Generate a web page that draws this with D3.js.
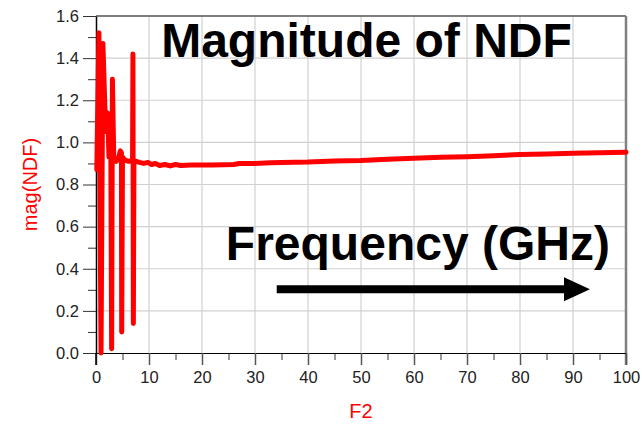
<!DOCTYPE html>
<html>
<head>
<meta charset="utf-8">
<script src="https://cdn.jsdelivr.net/npm/d3@7"></script>
<style>
  body { margin: 0; background: #fff; }
  svg { display: block; font-family: "Liberation Sans", Arial, sans-serif; }
</style>
</head>
<body>
<svg id="chart" width="642" height="424"></svg>
<script>
// frequency (GHz) and mag(NDF)
const freq = [0.15, 0.55, 0.95, 1.3, 1.7, 2.0, 2.2, 2.45, 2.8, 2.95, 3.1, 3.35, 3.8, 4.3, 4.6, 4.8, 4.85, 5.0, 5.5, 6.2, 6.9, 6.97, 7.05, 7.15, 7.6, 8.2, 9, 9.8, 10.5, 11.2, 12, 13, 14, 15, 16, 18, 20, 22, 24, 26, 27, 30, 33, 35, 40, 45, 50, 55, 60, 65, 70, 75, 80, 85, 90, 95, 100];
const mag = [0.87, 1.52, 0.0, 1.47, 1.15, 1.05, 1.14, 0.93, 0.93, 0.02, 1.30, 0.92, 0.91, 0.93, 0.96, 0.95, 0.10, 0.93, 0.915, 0.91, 0.915, 1.42, 0.14, 0.91, 0.91, 0.905, 0.9, 0.905, 0.895, 0.9, 0.89, 0.895, 0.888, 0.895, 0.89, 0.892, 0.892, 0.893, 0.894, 0.895, 0.9, 0.9, 0.903, 0.905, 0.907, 0.912, 0.914, 0.92, 0.925, 0.929, 0.932, 0.937, 0.942, 0.945, 0.948, 0.951, 0.953];

const xTicks = [0, 10, 20, 30, 40, 50, 60, 70, 80, 90, 100];
const xMinor = [5, 15, 25, 35, 45, 55, 65, 75, 85, 95];
const yTicks = [0, 0.2, 0.4, 0.6, 0.8, 1.0, 1.2, 1.4, 1.6];
const yMinor = [0.1, 0.3, 0.5, 0.7, 0.9, 1.1, 1.3, 1.5];

const width = 642, height = 424;
const margin = { top: 16, right: 16, bottom: 71, left: 96 };

const svg = d3.select('#chart');

const x = d3.scaleLinear().domain([0, 100]).range([margin.left, width - margin.right]);
const y = d3.scaleLinear().domain([0, 1.6]).range([height - margin.bottom, margin.top]);

// grid
svg.append('g')
  .selectAll('line')
  .data(xTicks.slice(1, -1))
  .join('line')
  .attr('x1', d => x(d)).attr('x2', d => x(d))
  .attr('y1', y(0)).attr('y2', y(1.6))
  .attr('stroke', '#d0d0d0').attr('stroke-width', 1.2);

svg.append('g')
  .selectAll('line')
  .data(yTicks.slice(1, -1))
  .join('line')
  .attr('x1', x(0)).attr('x2', x(100))
  .attr('y1', d => y(d)).attr('y2', d => y(d))
  .attr('stroke', '#d0d0d0').attr('stroke-width', 1.2);

// frame top and right
svg.append('line')
  .attr('x1', x(0)).attr('x2', x(100))
  .attr('y1', y(1.6)).attr('y2', y(1.6))
  .attr('stroke', '#555').attr('stroke-width', 1.5);

svg.append('line')
  .attr('x1', x(100)).attr('x2', x(100))
  .attr('y1', y(1.6)).attr('y2', y(0) + 12)
  .attr('stroke', '#808080').attr('stroke-width', 2.5);

// axes
const tickFont = g => g.selectAll('text')
  .attr('font-size', 16.5)
  .attr('fill', '#222')
  .attr('font-family', '"Liberation Sans", Arial, sans-serif');

svg.append('g')
  .attr('transform', `translate(0,${y(0)})`)
  .call(d3.axisBottom(x).tickValues(xMinor).tickSize(7).tickFormat(''))
  .call(g => g.select('.domain').remove())
  .call(g => g.selectAll('line').attr('stroke', '#333'));

svg.append('g')
  .attr('transform', `translate(0,${y(0)})`)
  .call(d3.axisBottom(x).tickValues(xTicks).tickSize(12).tickPadding(6).tickSizeOuter(0).tickFormat(d3.format('d')))
  .call(g => g.select('.domain').attr('stroke', '#000'))
  .call(g => g.selectAll('.tick line').attr('stroke', '#555').attr('stroke-width', 1.5))
  .call(tickFont);

svg.append('g')
  .attr('transform', `translate(${x(0)},0)`)
  .call(d3.axisLeft(y).tickValues(yMinor).tickSize(8).tickFormat(''))
  .call(g => g.select('.domain').remove())
  .call(g => g.selectAll('line').attr('stroke', '#333'));

svg.append('g')
  .attr('transform', `translate(${x(0)},0)`)
  .call(d3.axisLeft(y).tickValues(yTicks).tickSize(13).tickPadding(4).tickSizeOuter(0).tickFormat(d3.format('.1f')))
  .call(g => g.select('.domain').attr('stroke', '#000').attr('stroke-width', 1.5))
  .call(g => g.selectAll('.tick line').attr('stroke', '#333'))
  .call(tickFont);

// y axis line past the bottom
svg.append('line')
  .attr('x1', x(0)).attr('x2', x(0))
  .attr('y1', y(0)).attr('y2', y(0) + 12)
  .attr('stroke', '#000').attr('stroke-width', 1.5);

// data
const line = d3.line()
  .x(d => x(d[0]))
  .y(d => y(d[1]));

svg.append('path')
  .datum(d3.zip(freq, mag))
  .attr('d', line)
  .attr('fill', 'none')
  .attr('stroke', '#ff0000')
  .attr('stroke-width', 5)
  .attr('stroke-linejoin', 'round')
  .attr('stroke-linecap', 'round');

// axis titles
svg.append('text')
  .attr('x', (x(0) + x(100)) / 2)
  .attr('y', 418)
  .attr('text-anchor', 'middle')
  .attr('font-size', 20)
  .attr('fill', '#ff0000')
  .text('F2');

svg.append('text')
  .attr('transform', `translate(37,${(y(0) + y(1.6)) / 2}) rotate(-90)`)
  .attr('text-anchor', 'middle')
  .attr('font-size', 20)
  .attr('fill', '#ff0000')
  .text('mag(NDF)');

// annotations
svg.append('text')
  .attr('x', x(12.3))
  .attr('y', y(1.403))
  .attr('font-size', 48)
  .attr('font-weight', 'bold')
  .attr('fill', '#000')
  .text('Magnitude of NDF');

svg.append('text')
  .attr('x', x(24.5))
  .attr('y', y(0.44))
  .attr('font-size', 48)
  .attr('font-weight', 'bold')
  .attr('fill', '#000')
  .text('Frequency (GHz)');

const arrowY = y(0.303);
svg.append('line')
  .attr('x1', x(34.1)).attr('x2', x(88.5))
  .attr('y1', arrowY).attr('y2', arrowY)
  .attr('stroke', '#000').attr('stroke-width', 8);

svg.append('path')
  .attr('d', `M${x(88.3)},${arrowY - 12}L${x(93.2)},${arrowY}L${x(88.3)},${arrowY + 12}Z`)
  .attr('fill', '#000');
</script>
</body>
</html>
